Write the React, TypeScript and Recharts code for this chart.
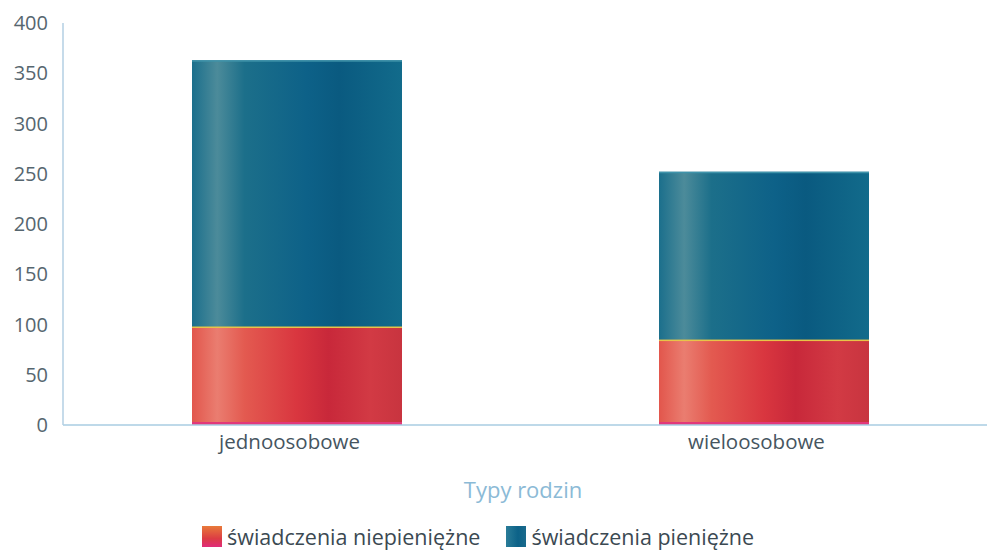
import React from 'react';
import { BarChart, Bar, XAxis, YAxis, Legend } from 'recharts';

const categories = ['jednoosobowe', 'wieloosobowe'];
const nonCash = [98, 85];
const cash = [265, 167];
const yTicks = [0, 50, 100, 150, 200, 250, 300, 350, 400];
const seriesNames = ['świadczenia niepieniężne', 'świadczenia pieniężne'];
const axisTitle = 'Typy rodzin';

const data = categories.map((c, i) => ({ name: c, nonCash: nonCash[i], cash: cash[i] }));

const FONT = '"Open Sans", "Noto Sans", sans-serif';

const RedShape = (props: any) => {
  const { x, y, width, height } = props;
  if (!height || height <= 0) return null;
  return (
    <g>
      <rect x={x} y={y} width={width} height={height} fill="url(#redGrad)" />
      <rect x={x} y={y + height - 3} width={width} height={3} fill="#e2387a" />
      <rect x={x} y={y - 1} width={width} height={2.5} fill="#e8c448" />
    </g>
  );
};

const BlueShape = (props: any) => {
  const { x, y, width, height } = props;
  if (!height || height <= 0) return null;
  return (
    <g>
      <rect x={x} y={y} width={width} height={height} fill="url(#blueGrad)" />
      <rect x={x} y={y} width={width} height={1.5} fill="#3f93aa" />
    </g>
  );
};

const LegendContent = () => (
  <div style={{ display: 'flex', alignItems: 'center', fontFamily: FONT, fontSize: 21.5, color: '#3b4952', whiteSpace: 'nowrap' }}>
    <span style={{ display: 'inline-block', width: 20, height: 21, background: 'linear-gradient(180deg,#e87a3a 0%,#dc3c44 60%,#e02c7a 100%)', marginRight: 5 }} />
    <span style={{ marginRight: 26 }}>{seriesNames[0]}</span>
    <span style={{ display: 'inline-block', width: 20, height: 21, background: 'linear-gradient(90deg,#2a7c98 0%,#0c6288 60%,#1a6a8c 100%)', marginRight: 5 }} />
    <span>{seriesNames[1]}</span>
  </div>
);

export default function App() {
  return (
    <div style={{ position: 'absolute', left: 0, top: 0, width: 987, height: 551, overflow: 'hidden', background: '#fff' }}>
      <BarChart
        width={1000}
        height={551}
        data={data}
        margin={{ top: 23, right: 3, bottom: 0, left: 0 }}
        barCategoryGap={0}
      >
        <defs>
          <linearGradient id="redGrad" x1="0" y1="0" x2="1" y2="0">
            <stop offset="0%" stopColor="#e2564c" />
            <stop offset="12%" stopColor="#ea7d70" />
            <stop offset="25%" stopColor="#e35a50" />
            <stop offset="50%" stopColor="#d9363f" />
            <stop offset="65%" stopColor="#c8283a" />
            <stop offset="85%" stopColor="#d23a44" />
            <stop offset="100%" stopColor="#c8343f" />
          </linearGradient>
          <linearGradient id="blueGrad" x1="0" y1="0" x2="1" y2="0">
            <stop offset="0%" stopColor="#1b6f8c" />
            <stop offset="12%" stopColor="#4c8b9a" />
            <stop offset="25%" stopColor="#1c6f8a" />
            <stop offset="55%" stopColor="#0d6188" />
            <stop offset="70%" stopColor="#0a5a80" />
            <stop offset="100%" stopColor="#126b8b" />
          </linearGradient>
        </defs>
        <XAxis
          dataKey="name"
          height={96}
          axisLine={{ stroke: '#a9cde2', strokeWidth: 1.5 }}
          tickLine={false}
          tickMargin={3}
          tick={{ fill: '#46555f', fontSize: 20.5, fontFamily: FONT, dx: -7 }}
          label={{ value: axisTitle, position: 'insideBottom', offset: 23, dx: -7, fill: '#8bbad6', fontSize: 22, fontFamily: FONT }}
        />
        <YAxis
          width={63}
          domain={[0, 400]}
          ticks={yTicks}
          interval={0}
          axisLine={{ stroke: '#b3cfe3', strokeWidth: 1.5 }}
          tickLine={false}
          tickMargin={9}
          tick={{ fill: '#56666f', fontSize: 20, fontFamily: FONT }}
        />
        <Legend
          verticalAlign="bottom"
          content={<LegendContent />}
          wrapperStyle={{ left: 202, width: 700, height: 30, bottom: -1 }}
        />
        <Bar dataKey="nonCash" name={seriesNames[0]} stackId="a" barSize={210} shape={<RedShape />} isAnimationActive={false} />
        <Bar dataKey="cash" name={seriesNames[1]} stackId="a" barSize={210} shape={<BlueShape />} isAnimationActive={false} />
      </BarChart>
    </div>
  );
}
